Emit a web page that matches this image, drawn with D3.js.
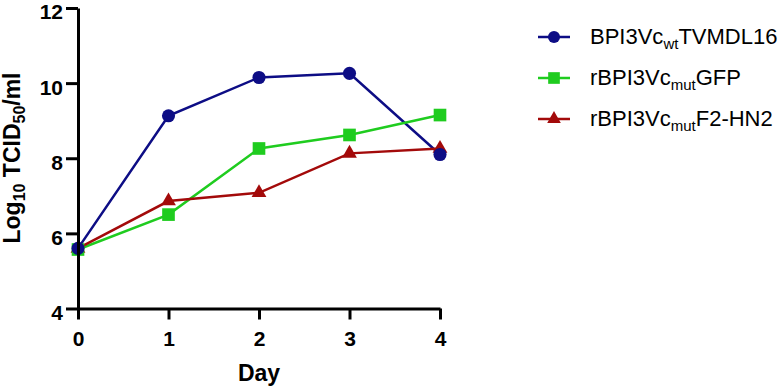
<!DOCTYPE html>
<meta charset="utf-8">
<head>
<script src="https://d3js.org/d3.v7.min.js"></script>
<style>
body { margin: 0; background: #fff; }
text { font-family: Arial, "Liberation Sans", sans-serif; }
</style>
</head>
<body>
<svg id="chart" width="781" height="389"></svg>
<script>
// data
var days = [0, 1, 2, 3, 4];
var wtTVMDL16 = [5.6, 9.13, 10.15, 10.26, 8.1];
var mutGFP = [5.57, 6.5, 8.26, 8.62, 9.15];
var mutF2HN2 = [5.6, 6.86, 7.08, 8.13, 8.26];
var yTicks = [4, 6, 8, 10, 12];

var series = [
  {name: ["BPI3Vc", "wt", "TVMDL16"], values: wtTVMDL16, color: "#0d0d85", shape: d3.symbolCircle, size: 135},
  {name: ["rBPI3Vc", "mut", "GFP"], values: mutGFP, color: "#1fcc1f", shape: d3.symbolSquare, size: 160},
  {name: ["rBPI3Vc", "mut", "F2-HN2"], values: mutF2HN2, color: "#a30a0a", shape: d3.symbolTriangle, size: 95}
];

var svg = d3.select("#chart");

var x = d3.scaleLinear().domain([0, 4]).range([78, 440]);
var y = d3.scaleLinear().domain([4, 12]).range([308.5, 8]);

var line = d3.line().x(function(d, i){ return x(days[i]); }).y(function(d){ return y(d); });

// lines first, then markers
series.forEach(function(s){
  svg.append("path")
    .datum(s.values)
    .attr("d", line)
    .attr("fill", "none")
    .attr("stroke", s.color)
    .attr("stroke-width", 2.5);
});
series.slice().reverse().forEach(function(s){
  svg.selectAll(null)
    .data(s.values)
    .enter().append("path")
    .attr("d", d3.symbol().type(s.shape).size(s.size))
    .attr("transform", function(d, i){ return "translate(" + x(days[i]) + "," + y(d) + ")"; })
    .attr("fill", s.color);
});

// axes
var xAxis = svg.append("g")
  .attr("transform", "translate(0,308.5)")
  .call(d3.axisBottom(x).tickValues(days).tickFormat(d3.format("d")).tickSize(11).tickSizeOuter(0));
var yAxis = svg.append("g")
  .attr("transform", "translate(78,0)")
  .call(d3.axisLeft(y).tickValues(yTicks).tickSize(12).tickSizeOuter(0));

[xAxis, yAxis].forEach(function(a){
  a.select(".domain").attr("stroke", "#000").attr("stroke-width", 3);
  a.selectAll(".tick line").attr("stroke", "#000").attr("stroke-width", 3);
  a.selectAll(".tick text")
    .attr("fill", "#000")
    .style("font-size", "21px")
    .style("font-weight", "bold");
});
xAxis.selectAll(".tick text").attr("y", 37).attr("dy", 0);
yAxis.selectAll(".tick text").attr("x", -15).attr("dy", "0.52em");

// axis titles
svg.append("text")
  .attr("x", 259).attr("y", 381)
  .attr("text-anchor", "middle")
  .style("font-size", "23px").style("font-weight", "bold")
  .text("Day");

var yt = svg.append("text")
  .attr("transform", "translate(20,158) rotate(-90)")
  .attr("text-anchor", "middle")
  .style("font-size", "23px").style("font-weight", "bold");
yt.append("tspan").text("Log");
yt.append("tspan").attr("dy", 5).style("font-size", "16px").text("10");
yt.append("tspan").attr("dy", -5).text(" TCID");
yt.append("tspan").attr("dy", 5).style("font-size", "16px").text("50");
yt.append("tspan").attr("dy", -5).text("/ml");

// legend
var legend = svg.append("g");
series.forEach(function(s, i){
  var ly = 37 + i * 41;
  legend.append("line")
    .attr("x1", 538).attr("x2", 570).attr("y1", ly).attr("y2", ly)
    .attr("stroke", s.color).attr("stroke-width", 2.5);
  legend.append("path")
    .attr("d", d3.symbol().type(s.shape).size(s.size * 0.85))
    .attr("transform", "translate(554," + ly + ")")
    .attr("fill", s.color);
  var t = legend.append("text")
    .attr("x", 590).attr("y", ly + 7)
    .style("font-size", "22px").attr("fill", "#000");
  t.append("tspan").text(s.name[0]);
  t.append("tspan").attr("dy", 5).style("font-size", "15px").text(s.name[1]);
  t.append("tspan").attr("dy", -5).text(s.name[2]);
});
</script>
</body>
</html>
